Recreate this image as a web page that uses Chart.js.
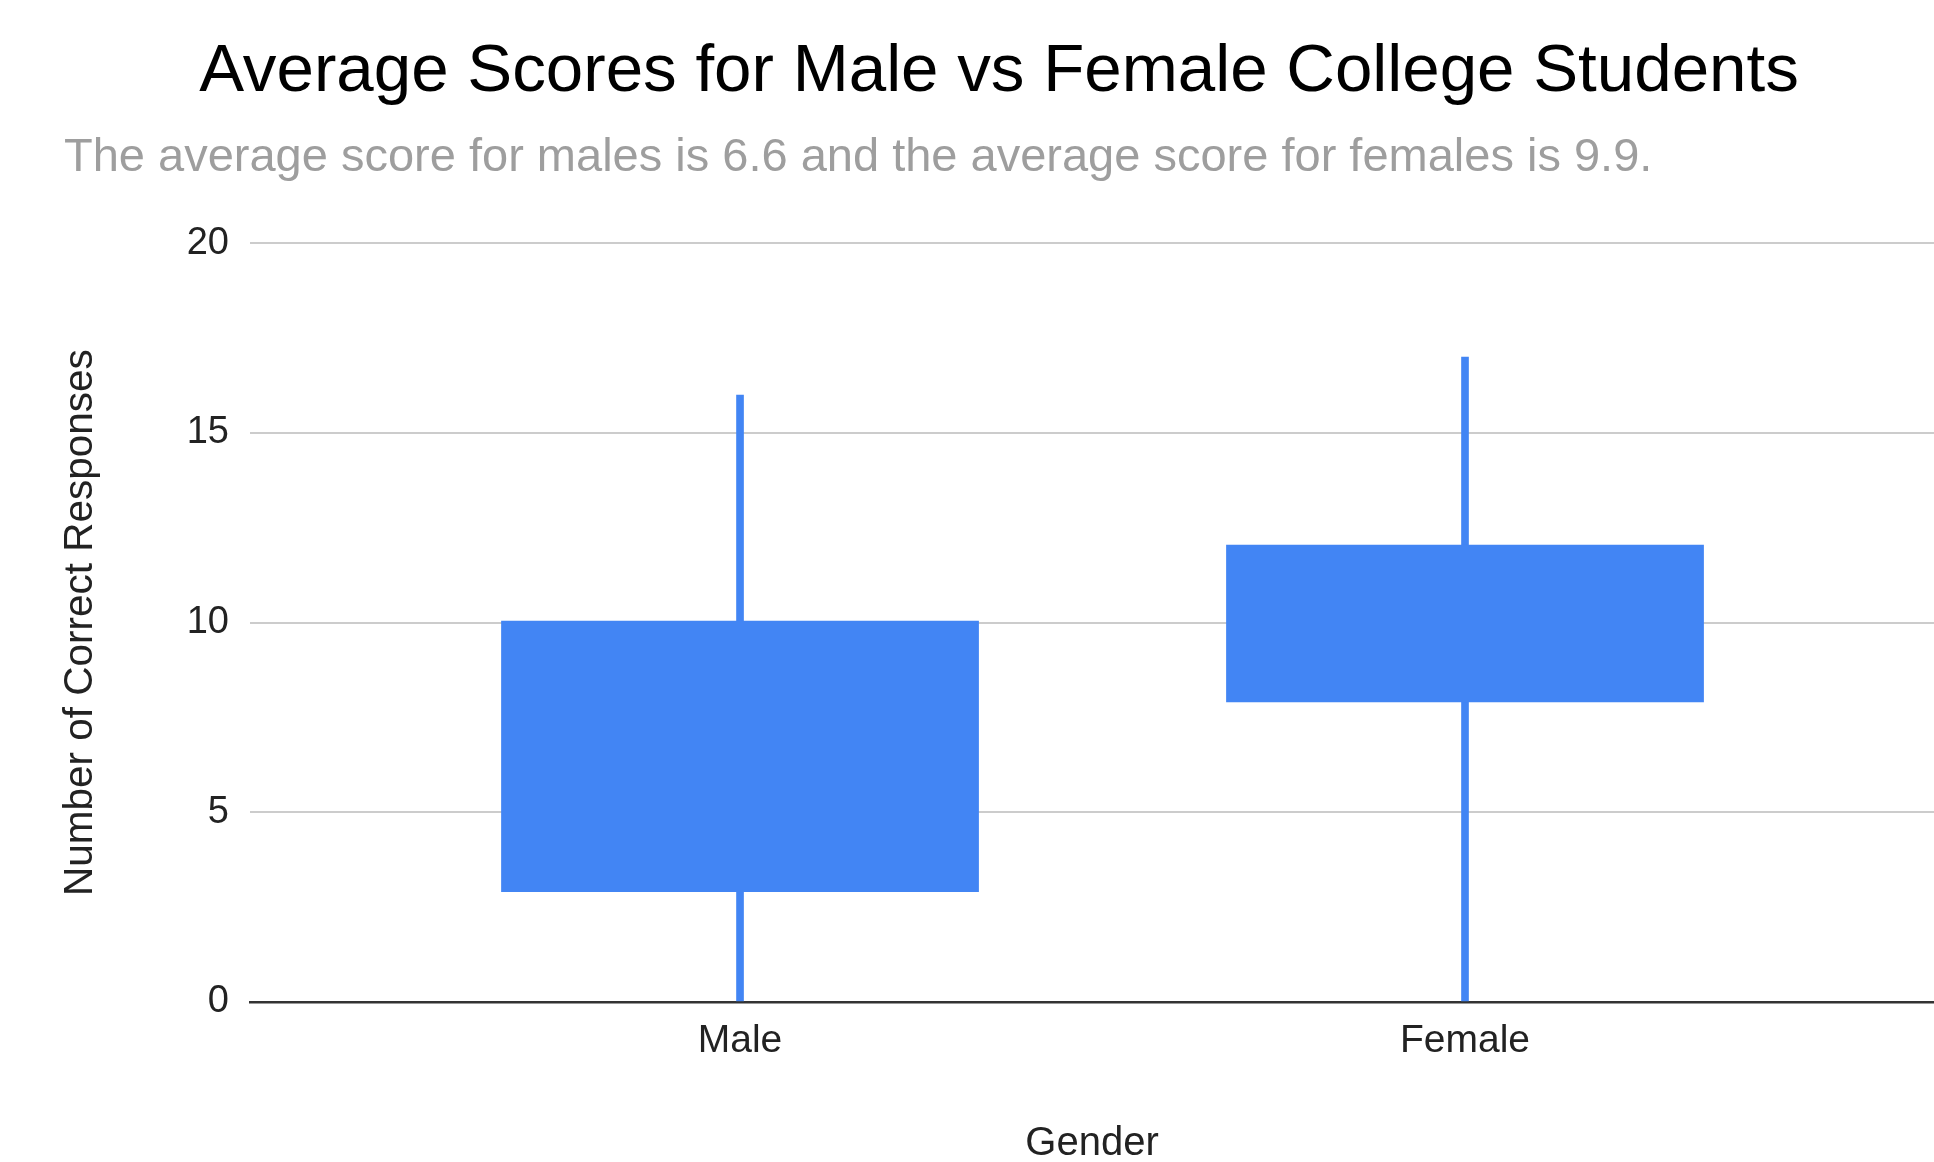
<!DOCTYPE html>
<html>
<head>
<meta charset="utf-8">
<script src="https://cdn.jsdelivr.net/npm/chart.js@4"></script>
<style>
  html, body { margin: 0; padding: 0; background: #ffffff; }
  #wrap { width: 1934px; height: 1162px; position: relative; }
</style>
</head>
<body>
<div id="wrap"><canvas id="c"></canvas></div>
<script>
const chartTitle = 'Average Scores for Male vs Female College Students';
const chartSubtitle = 'The average score for males is 6.6 and the average score for females is 9.9.';
const xAxisTitle = 'Gender';
const yAxisTitle = 'Number of Correct Responses';

const categories = ['Male', 'Female'];
const lowValues = [0, 0];
const q1Values = [2.9, 7.9];
const q3Values = [10.05, 12.05];
const highValues = [16, 17];
const yTickValues = [0, 5, 10, 15, 20];

const FONT = "'Liberation Sans', Arial, sans-serif";
const BLUE = '#4285F4';

const whiskerData = categories.map((c, i) => ({ x: i, y: [lowValues[i], highValues[i]] }));
const boxData = categories.map((c, i) => ({ x: i, y: [q1Values[i], q3Values[i]] }));

new Chart(document.getElementById('c'), {
  type: 'bar',
  data: {
    datasets: [
      {
        label: 'Range',
        data: whiskerData,
        backgroundColor: BLUE,
        borderWidth: 0,
        barThickness: 7,
        grouped: false,
        order: 2
      },
      {
        label: 'Box',
        data: boxData,
        backgroundColor: BLUE,
        borderWidth: 0,
        barPercentage: 0.659,
        categoryPercentage: 1,
        grouped: false,
        order: 1
      }
    ]
  },
  options: {
    responsive: true,
    maintainAspectRatio: false,
    animation: false,
    devicePixelRatio: 1,
    layout: { padding: { left: 64, right: 0, top: 0, bottom: 0 } },
    plugins: {
      legend: { display: false },
      tooltip: { enabled: false },
      title: {
        display: true,
        text: chartTitle,
        align: 'center',
        color: '#000000',
        font: { family: FONT, size: 67.3, weight: 'normal', lineHeight: 1.2 },
        padding: { top: 32.5, bottom: 0 }
      },
      subtitle: {
        display: true,
        text: chartSubtitle,
        align: 'start',
        color: '#9e9e9e',
        font: { family: FONT, size: 47, weight: 'normal', lineHeight: 1.2 },
        padding: { top: 17, bottom: 56.6 }
      }
    },
    scales: {
      x: {
        type: 'linear',
        min: -0.6759,
        max: 1.6469,
        offset: false,
        afterBuildTicks: (axis) => { axis.ticks = categories.map((c, i) => ({ value: i })); },
        afterFit: (axis) => { axis.height = 160; },
        grid: { display: false, drawTicks: false, offset: false },
        border: { display: true, color: '#333333', width: 2.5 },
        ticks: {
          autoSkip: false,
          maxRotation: 0,
          padding: 15.6,
          color: '#222222',
          font: { family: FONT, size: 39, lineHeight: 1.2 },
          callback: (value) => categories[value]
        },
        title: {
          display: true,
          text: xAxisTitle,
          color: '#222222',
          font: { family: FONT, size: 40, lineHeight: 1.2 },
          padding: { top: 0, bottom: -6 }
        }
      },
      y: {
        type: 'linear',
        min: 0,
        max: 20,
        afterBuildTicks: (axis) => { axis.ticks = yTickValues.map(v => ({ value: v })); },
        afterFit: (axis) => { axis.width = 186; },
        grid: { color: '#cccccc', lineWidth: 2, drawTicks: false },
        border: { display: false },
        ticks: {
          padding: 21,
          color: '#222222',
          font: { family: FONT, size: 38, lineHeight: 1.2 }
        },
        title: {
          display: true,
          text: yAxisTitle,
          color: '#222222',
          font: { family: FONT, size: 40.5, lineHeight: 1.2 },
          padding: { top: -7, bottom: 0 }
        }
      }
    }
  }
});
</script>
</body>
</html>
